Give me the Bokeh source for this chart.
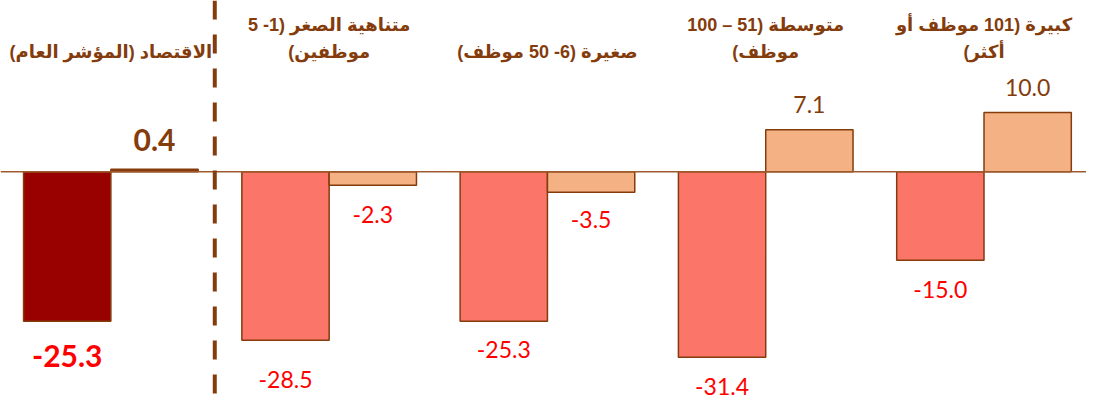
from bokeh.plotting import figure
from bokeh.models import ColumnDataSource, Range1d, Span
from bokeh.core.properties import value
from bokeh.embed import file_html
from bokeh.resources import INLINE

# ---- data ----
categories = [
    "الاقتصاد (المؤشر العام)",
    "متناهية الصغر (1- 5\nموظفين)",
    "صغيرة (6- 50 موظف)",
    "متوسطة (51 – 100\nموظف)",
    "كبيرة (101 موظف أو\nأكثر)",
]
series_a = [-25.3, -28.5, -25.3, -31.4, -15.0]
series_b = [0.4, -2.3, -3.5, 7.1, 10.0]

# ---- styles ----
BROWN = "#843C0C"
RED_TXT = "#FF0000"
fill_a = ["#990000", "#FB7569", "#FB7569", "#FB7569", "#FB7569"]
fill_b = [BROWN, "#F4B183", "#F4B183", "#F4B183", "#F4B183"]
offset_a = [36, 41, 29, 30, 30]      # label offset from bar end (reference px)
offset_b = [-30, 30, 28, -26, -26]
size_a = ["30px", "23px", "23px", "23px", "23px"]
size_b = ["30px", "23px", "23px", "23px", "23px"]
style_a = ["bold", "normal", "normal", "normal", "normal"]
style_b = ["bold", "normal", "normal", "normal", "normal"]

REF_W, REF_H = 1102, 415
W, H = 1086, 399
SY = H / REF_H
GROUP0_PX, GROUP_STEP_PX = 112, 221.5
PX_PER_UNIT, ZERO_PX = 6.15, 178

x0 = (0 - GROUP0_PX) / GROUP_STEP_PX
x1 = (REF_W - GROUP0_PX) / GROUP_STEP_PX
y_top = ZERO_PX / PX_PER_UNIT
y_bot = -(REF_H - ZERO_PX) / PX_PER_UNIT

p = figure(width=W, height=H, output_backend="svg", toolbar_location=None,
           x_range=Range1d(x0, x1), y_range=Range1d(y_bot, y_top),
           min_border=0)
p.axis.visible = False
p.grid.visible = False
p.outline_line_color = None
p.background_fill_color = "white"

n = len(categories)
xs = list(range(n))
BW = 0.4

src_a = ColumnDataSource(dict(x=[i - BW / 2 for i in xs], top=series_a, fill=fill_a))
src_b = ColumnDataSource(dict(x=[i + BW / 2 for i in xs], top=series_b, fill=fill_b))
for s in (src_a, src_b):
    p.vbar(x="x", top="top", bottom=0, width=BW, source=s, fill_color="fill",
           line_color=BROWN, line_width=1.5)

p.add_layout(Span(location=0, dimension="width", line_color="#9E5A2E", line_width=1.5))
p.add_layout(Span(location=0.476, dimension="height", line_color=BROWN,
                  line_width=4, line_dash="19 15"))

# value labels
def labels(src_x, vals, offs, sizes, styles):
    cols = [RED_TXT if v < 0 else BROWN for v in vals]
    txt = [f"{v:.1f}" for v in vals]
    ds = ColumnDataSource(dict(x=src_x, y=vals, t=txt, c=cols,
                               o=[o * SY for o in offs], s=sizes, st=styles))
    p.text(x="x", y="y", text="t", source=ds, text_color="c", y_offset="o",
           text_font_size="s", text_font_style="st", text_font=value("Lato"),
           text_align="center", text_baseline="middle")

labels(src_a.data["x"], series_a, offset_a, size_a, style_a)
labels(src_b.data["x"], series_b, offset_b, size_b, style_b)

# category labels (top), forced right-to-left embedding
RLE, PDF = "\u202b", "\u202c"
lx, lt, lo = [], [], []
for i, c in enumerate(categories):
    lines = c.split("\n")
    k = len(lines)
    for j, ln in enumerate(lines):
        lx.append(i)
        lt.append(RLE + ln + PDF)
        lo.append((54 - 28 * (k - 1 - j)) * SY)
cat_src = ColumnDataSource(dict(x=lx, y=[y_top] * len(lx), t=lt, o=lo))
p.text(x="x", y="y", text="t", y_offset="o", source=cat_src, text_color=BROWN,
       text_font=value("Liberation Sans, DejaVu Sans"), text_font_size="18px",
       text_font_style="bold", text_align="center", text_baseline="middle")

open("out.html", "w").write(file_html(p, INLINE))
